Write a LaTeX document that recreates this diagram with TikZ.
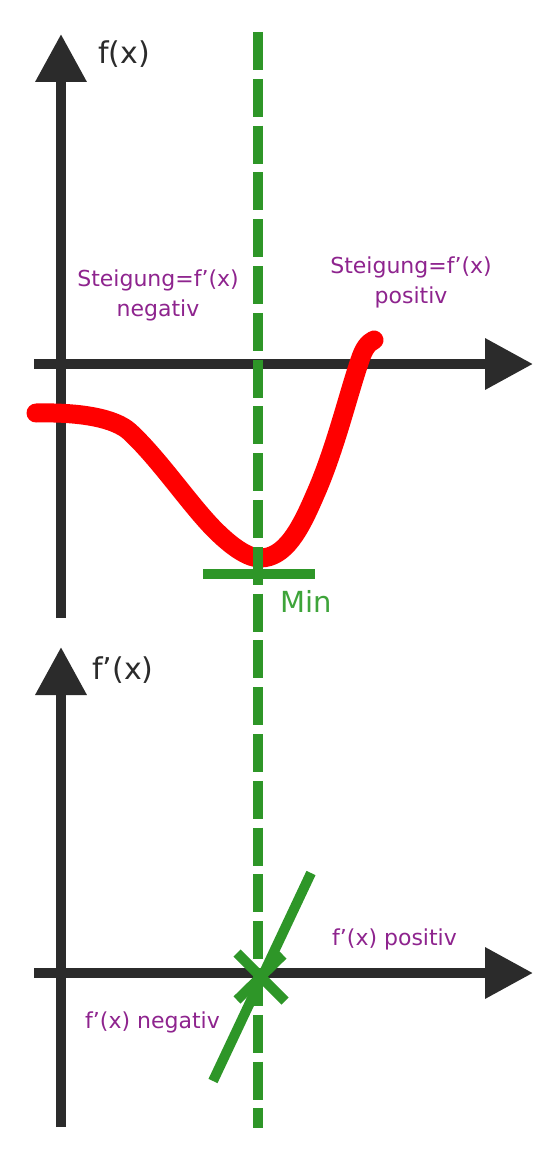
\documentclass[tikz,border=0pt]{standalone}
\usepackage{fontspec}
\setmainfont{DejaVu Sans}
\usetikzlibrary{arrows.meta}
\definecolor{axisgray}{RGB}{43,43,43}
\definecolor{mingreen}{RGB}{46,150,40}
\definecolor{mintext}{RGB}{62,164,58}
\definecolor{notepurple}{RGB}{142,36,142}

\begin{document}
\begin{tikzpicture}[
    x=1pt, y=-1pt,
    axis/.style={draw=axisgray, line width=10pt, -{Triangle[length=48pt,width=49pt]}},
    fcurve/.style={draw=red, line width=19pt, line cap=round, line join=round},
    marker/.style={draw=mingreen, line width=10pt},
    minline/.style={draw=mingreen, line width=10.5pt, dash pattern=on 38pt off 8.8pt},
    axislabel/.style={inner sep=0pt, anchor=base west, text=axisgray, font=\fontsize{30}{36}\selectfont},
    note/.style={inner sep=0pt, align=center, text=notepurple, font=\fontsize{22}{30}\selectfont}
]
\useasboundingbox (0,0) rectangle (550,1158);
% upper plot
\coordinate (fy0) at (61,618);
\coordinate (fy1) at (61,34);
\coordinate (fx0) at (34,364);
\coordinate (fx1) at (533,364);
\draw[axis] (fy0) -- (fy1);
\draw[axis] (fx0) -- (fx1);
\node[axislabel] (flabel) at (98,64) {f(x)};
\draw[fcurve] (36,413) .. controls (80,412) and (115,418) .. (130,432)
  .. controls (160,460) and (190,505) .. (215,530)
  .. controls (235,550) and (250,558) .. (260,558)
  .. controls (285,558) and (300,530) .. (315,495)
  .. controls (335,450) and (348,395) .. (360,360)
  .. controls (364,348) and (368,343) .. (374,340);
\node[note] (neg) at (158,295) {Steigung=f’(x)\\negativ};
\node[note] (pos) at (411,282) {Steigung=f’(x)\\positiv};
% lower plot
\coordinate (dy0) at (61,1127);
\coordinate (dy1) at (61,647);
\coordinate (dx0) at (34,973);
\coordinate (dx1) at (533,973);
\draw[axis] (dy0) -- (dy1);
\draw[axis] (dx0) -- (dx1);
\node[axislabel] (dlabel) at (92,679) {f’(x)};
% minimum
\coordinate (vtop) at (258,32);
\coordinate (vbot) at (258,1128);
\draw[minline] (vtop) -- (vbot);
\coordinate (barl) at (203,574);
\coordinate (barr) at (315,574);
\draw[marker] (barl) -- (barr);
\node[inner sep=0pt, anchor=base west, text=mintext, font=\fontsize{29}{34}\selectfont] (min) at (280,612) {Min};
\coordinate (slopetop) at (311,873);
\coordinate (slopebot) at (213,1081);
\draw[marker] (slopebot) -- (slopetop);
\draw[marker] (237,953) -- (285,1001);
\draw[marker] (237,1000) -- (283,955);
\node[note, anchor=base west] (dpos) at (332,945) {f’(x) positiv};
\node[note, anchor=base west] (dneg) at (85,1028) {f’(x) negativ};
\end{tikzpicture}
\end{document}
